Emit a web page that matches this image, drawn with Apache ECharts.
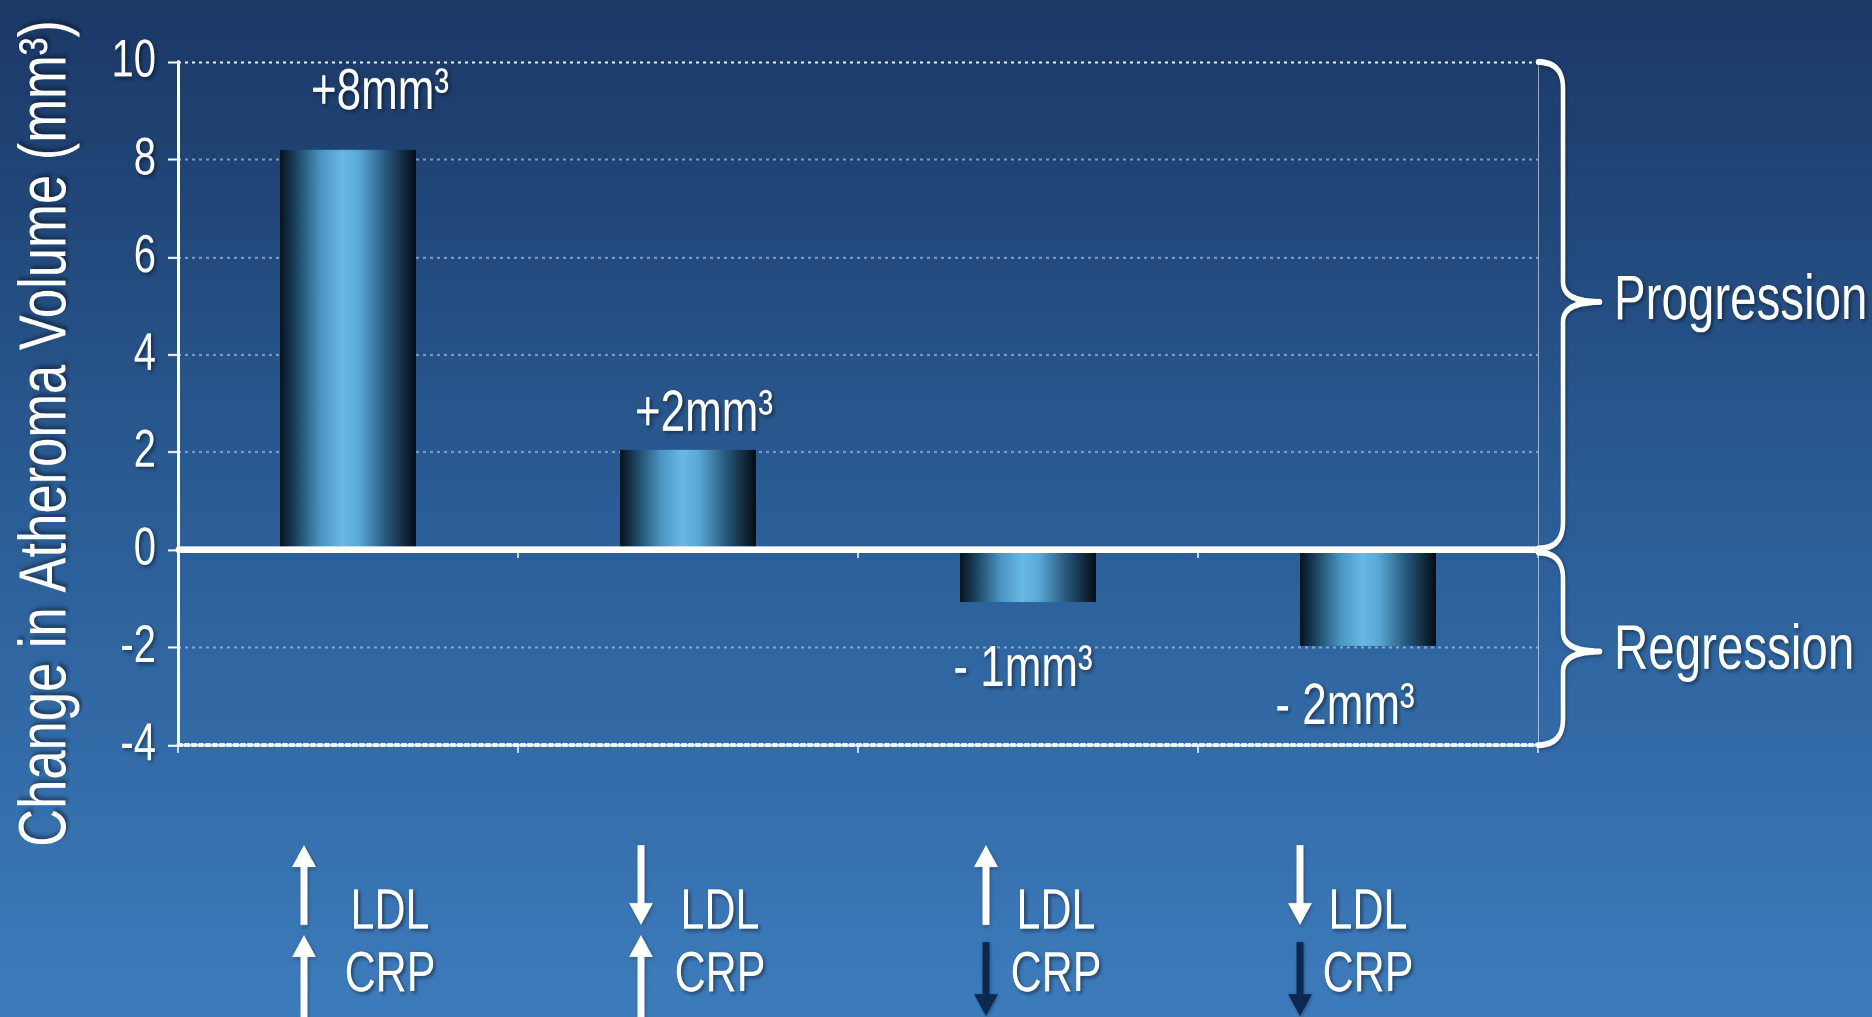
<!DOCTYPE html>
<html>
<head>
<meta charset="utf-8">
<title>Change in Atheroma Volume</title>
<script src="https://cdn.jsdelivr.net/npm/echarts@6/dist/echarts.min.js"></script>
<style>
  html, body { margin: 0; padding: 0; width: 100%; height: 100%; overflow: hidden; background: #3d7cbc; }
  /* the slide artwork is drawn at 765px tall and stretched to the full 1017px */
  #chart { width: 1872px; height: 765px; transform: scaleY(1.32941); transform-origin: 0 0; }
</style>
</head>
<body>
<div id="chart"></div>
<script>
// Patient groups by direction of LDL and CRP change
const groups = ['LDL↑ CRP↑', 'LDL↓ CRP↑', 'LDL↑ CRP↓', 'LDL↓ CRP↓'];
const volumeChange = [8.2, 2.05, -1.07, -1.97];   // mm³
const ldlTrend = [1, -1, 1, -1];                 // 1 = rise, -1 = fall
const crpTrend = [1, 1, -1, -1];
const yMin = -4, yMax = 10, yStep = 2;
const zoneNames = ['Progression', 'Regression'];
const yAxisTitle = 'Change in Atheroma Volume (mm³)';

const STRETCH = 1017 / 765;          // vertical stretch applied by CSS
const vy = n => n / STRETCH;         // screen-pixel height -> chart units

const FONT = '"Liberation Sans", Arial, Helvetica, sans-serif';
const WHITE = '#ffffff';
const DARK_ARROW = '#0b2850';
const shadow = {
  textShadowColor: 'rgba(0,0,0,0.45)', textShadowBlur: 3,
  textShadowOffsetX: 2, textShadowOffsetY: 1.5
};

const fmtChange = v => (v >= 0 ? '+' : '- ') + Math.round(Math.abs(v)) + 'mm³';

// label placement around each bar end (dx, dy)
const labelNudge = [[32, vy(-57)], [16, vy(-35)], [-5, vy(68)], [-23, vy(62)]];

const barGradient = new echarts.graphic.LinearGradient(0, 0, 1, 0, [
  { offset: 0.00, color: '#07121d' },
  { offset: 0.12, color: '#1c4563' },
  { offset: 0.30, color: '#4b95c2' },
  { offset: 0.46, color: '#69b9e4' },
  { offset: 0.58, color: '#5aa8d6' },
  { offset: 0.78, color: '#27587c' },
  { offset: 1.00, color: '#050c14' }
]);

const dimGrid = 'rgba(190,215,245,0.6)';
const brightGrid = 'rgba(245,250,255,0.95)';

const chart = echarts.init(document.getElementById('chart'), null, { renderer: 'canvas', devicePixelRatio: 2 });

chart.setOption({
  backgroundColor: {
    type: 'linear', x: 0, y: 0, x2: 0, y2: 1,
    colorStops: [
      { offset: 0, color: '#1b3866' },
      { offset: 0.5, color: '#2b5d96' },
      { offset: 1, color: '#3d7cbc' }
    ]
  },
  animation: false,
  grid: { left: 178, right: 334, top: vy(62), bottom: vy(272), containLabel: false, outerBoundsMode: 'none' },
  xAxis: [
    {
      type: 'category', data: groups, position: 'bottom', z: 5,
      axisLine: { onZero: true, lineStyle: { color: WHITE, width: vy(6.5) } },
      axisTick: { show: true, length: vy(8), lineStyle: { color: WHITE, width: 1.5 } },
      axisLabel: { show: false },
      splitLine: { show: false }
    },
    {
      type: 'category', data: groups, position: 'bottom', z: 5,
      axisLine: { onZero: false, lineStyle: { color: brightGrid, width: vy(4), type: [4, 3] } },
      axisTick: { show: true, length: vy(8), lineStyle: { color: WHITE, width: 1.5 } },
      axisLabel: { show: false },
      splitLine: { show: false }
    }
  ],
  yAxis: [
    {
      type: 'value', min: yMin, max: yMax, interval: yStep, position: 'left',
      axisLine: { show: true, lineStyle: { color: WHITE, width: 3 } },
      axisTick: { show: true, length: 10, lineStyle: { color: WHITE, width: vy(2) } },
      axisLabel: Object.assign({ color: WHITE, fontFamily: FONT, fontSize: 40, margin: 22 }, shadow),
      splitLine: {
        show: true,
        lineStyle: {
          color: [brightGrid, dimGrid, dimGrid, dimGrid, dimGrid, dimGrid, dimGrid, brightGrid],
          width: vy(2), type: [3, 4]
        }
      }
    },
    {
      type: 'value', min: yMin, max: yMax, interval: yStep, position: 'right',
      axisLine: { show: true, lineStyle: { color: 'rgba(255,255,255,0.55)', width: 1 } },
      axisTick: { show: false }, axisLabel: { show: false }, splitLine: { show: false }
    }
  ],
  series: [{
    type: 'bar', xAxisIndex: 0, yAxisIndex: 0, barWidth: '40%',
    itemStyle: { color: barGradient },
    label: Object.assign({
      show: true, color: WHITE, fontFamily: FONT, fontSize: 44,
      align: 'center', verticalAlign: 'middle',
      formatter: p => fmtChange(p.value)
    }, shadow),
    data: volumeChange.map((v, i) => ({
      value: v,
      label: { position: v >= 0 ? ['50%', 0] : ['50%', '100%'], offset: labelNudge[i] }
    }))
  }]
});

// Decorations laid out from the axes: axis title, zone braces and the LDL / CRP trend markers
function arrowPoints(x, t, b, dir) {
  const sw = 3.5, hw = 12, hl = vy(22);
  if (dir > 0) {
    return [[x, t], [x + hw, t + hl], [x + sw, t + hl], [x + sw, b], [x - sw, b], [x - sw, t + hl], [x - hw, t + hl]];
  }
  return [[x - sw, t], [x + sw, t], [x + sw, b - hl], [x + hw, b - hl], [x, b], [x - hw, b - hl], [x - sw, b - hl]];
}

function quad(p0, c, p1, out) {
  for (let k = 0; k <= 12; k++) {
    const t = k / 12, u = 1 - t;
    out.push([u * u * p0[0] + 2 * u * t * c[0] + t * t * p1[0],
              u * u * p0[1] + 2 * u * t * c[1] + t * t * p1[1]]);
  }
}

function bracePoints(x0, yT, yB, yMid) {
  const xs = x0 + 25, xt = x0 + 62, r = vy(26), r2 = vy(20);
  const pts = [];
  quad([x0, yT], [xs, yT], [xs, yT + r], pts);
  quad([xs, yMid - r2], [xs, yMid], [xt, yMid], pts);
  quad([xt, yMid], [xs, yMid], [xs, yMid + r2], pts);
  quad([xs, yB - r], [xs, yB], [x0, yB], pts);
  return pts;
}

function layoutDecor() {
  const py = v => chart.convertToPixel({ yAxisIndex: 0 }, v);
  const px = i => chart.convertToPixel({ xAxisIndex: 0 }, i);
  const xRight = px(groups.length - 1) + (px(1) - px(0)) / 2;
  const yTop = py(yMax), yZero = py(0), yBot = py(yMin);
  const textShadow = { textShadowColor: 'rgba(0,0,0,0.45)', textShadowBlur: 3, textShadowOffsetX: 2, textShadowOffsetY: 1.5 };

  const els = [];

  // rotated value-axis title, condensed along its length
  els.push({
    type: 'text', silent: true, z: 10,
    x: 47, y: (yTop + yBot) / 2 + vy(30),
    rotation: Math.PI / 2, scaleX: 0.59, scaleY: 1,
    style: Object.assign({
      text: yAxisTitle, fill: WHITE, font: '67px ' + FONT,
      align: 'center', verticalAlign: 'middle'
    }, { textShadowColor: 'rgba(0,0,0,0.45)', textShadowBlur: 3, textShadowOffsetX: 2, textShadowOffsetY: -2 })
  });

  const zones = [[yTop, yZero - 1, (yTop + yZero) / 2 - vy(4)], [yZero + 2, yBot, (yZero + yBot) / 2 + vy(4)]];
  zones.forEach((z, k) => {
    els.push({
      type: 'polyline', silent: true, z: 10,
      shape: { points: bracePoints(xRight, z[0], z[1], z[2]) },
      style: { fill: null, stroke: WHITE, lineWidth: 4.6, lineJoin: 'round', lineCap: 'round',
               shadowColor: 'rgba(0,0,0,0.35)', shadowBlur: 3, shadowOffsetX: 1, shadowOffsetY: 1 }
    });
    els.push({
      type: 'text', silent: true, z: 10,
      x: xRight + 76, y: z[2],
      style: Object.assign({
        text: zoneNames[k], fill: WHITE, font: '47.5px ' + FONT,
        align: 'left', verticalAlign: 'middle'
      }, textShadow)
    });
  });

  // trend markers under each group
  const arrowShift = [-44, -47, -42, -68];
  const textShift = [42, 32, 28, 0];
  groups.forEach((g, i) => {
    const cx = px(i);
    const ax = cx + arrowShift[i];
    const tx = cx + textShift[i];
    const rows = [
      { name: 'LDL', dir: ldlTrend[i], a0: yBot + vy(100), a1: yBot + vy(180), ty: yBot + vy(168), color: WHITE },
      { name: 'CRP', dir: crpTrend[i], a0: yBot + vy(crpTrend[i] > 0 ? 190 : 197),
        a1: yBot + vy(crpTrend[i] > 0 ? 300 : 271),
        ty: yBot + vy(230), color: crpTrend[i] > 0 ? WHITE : DARK_ARROW }
    ];
    rows.forEach(r => {
      els.push({
        type: 'polygon', silent: true, z: 10,
        shape: { points: arrowPoints(ax, r.a0, r.a1, r.dir) },
        style: { fill: r.color, shadowColor: 'rgba(0,0,0,0.3)', shadowBlur: 3, shadowOffsetX: 1, shadowOffsetY: 1 }
      });
      els.push({
        type: 'text', silent: true, z: 10,
        x: tx, y: r.ty,
        style: Object.assign({
          text: r.name, fill: WHITE, font: '43px ' + FONT,
          align: 'center', verticalAlign: 'middle'
        }, textShadow)
      });
    });
  });
  chart.setOption({ graphic: { elements: els } });
}

layoutDecor();
</script>
</body>
</html>
